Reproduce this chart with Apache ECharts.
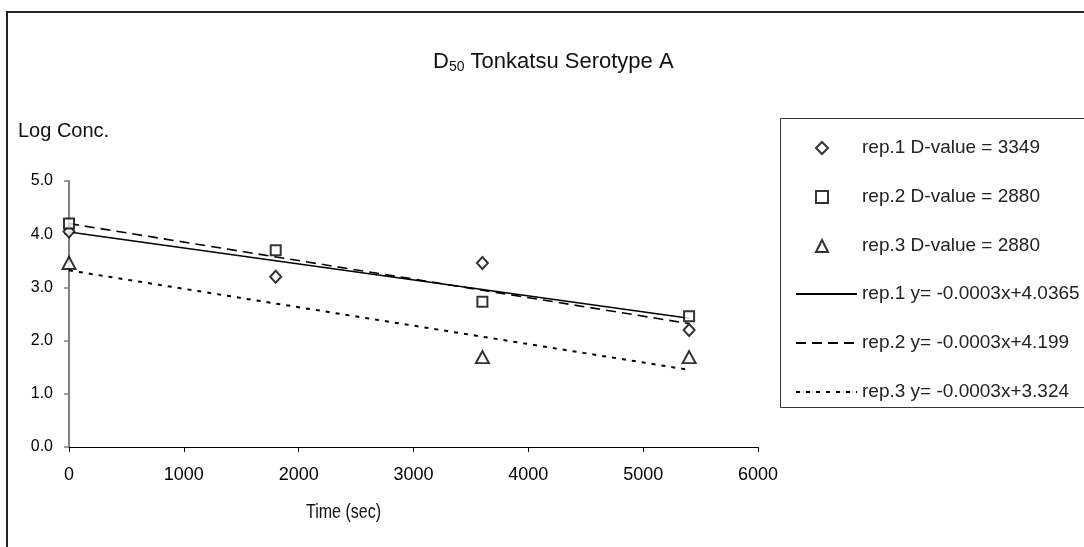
<!DOCTYPE html>
<html>
<head>
<meta charset="utf-8">
<script src="https://cdn.jsdelivr.net/npm/echarts@6/dist/echarts.min.js"></script>
<style>
  html, body { margin: 0; padding: 0; background: #fff; }
  #chart { width: 1084px; height: 547px; }
</style>
</head>
<body>
<div id="chart"></div>
<script>
// Sampling times (sec) and measured log concentrations per replicate
const timeSec = [0, 1800, 3600, 5400];
const rep1 = [4.05, 3.20, 3.46, 2.20];
const rep2 = [4.20, 3.70, 2.73, 2.46];
const rep3 = [3.46, null, 1.69, 1.69];

// Linear trendlines, end points at first and last sampling time
const trendX = [0, 5400];
const trend1 = [4.04, 2.42];
const trend2 = [4.20, 2.32];
const trend3 = [3.32, 1.45];

const pointNames = [
  'rep.1 D-value = 3349',
  'rep.2 D-value = 2880',
  'rep.3 D-value = 2880'
];
const lineNames = [
  'rep.1 y= -0.0003x+4.0365',
  'rep.2 y= -0.0003x+4.199',
  'rep.3 y= -0.0003x+3.324'
];

const xTicks = { min: 0, max: 6000, interval: 1000 };
const yTicks = { min: 0, max: 5, interval: 1 };

const font = '"Liberation Sans", Arial, sans-serif';
const narrowFont = '"Liberation Sans Narrow", "Arial Narrow", ' + font;

function pairs(xs, ys) {
  return xs.map((x, i) => [x, ys[i]]).filter(p => p[1] !== null);
}

const markerStyle = { color: '#fff', borderColor: '#000', borderWidth: 2 };
const hiddenSymbol = { color: 'transparent', borderColor: 'transparent' };
const legendText = { fontFamily: font, fontSize: 19, lineHeight: 20, color: '#222' };

const chart = echarts.init(document.getElementById('chart'), null, { renderer: 'canvas' });

chart.setOption({
  animation: false,
  backgroundColor: '#fff',
  grid: { left: 69, right: 326, top: 181, bottom: 100, containLabel: false },
  legend: [
    {
      orient: 'vertical',
      left: 810,
      top: 133,
      itemWidth: 12,
      itemHeight: 12,
      itemGap: 29,
      textStyle: Object.assign({ padding: [0, 0, 0, 29] }, legendText),
      data: pointNames
    },
    {
      orient: 'vertical',
      left: 790,
      top: 279,
      itemWidth: 61,
      itemHeight: 12,
      itemGap: 29,
      textStyle: Object.assign({ padding: [0, 0, 0, 0] }, legendText),
      data: lineNames
    }
  ],
  xAxis: {
    type: 'value',
    min: xTicks.min, max: xTicks.max, interval: xTicks.interval,
    axisLine: { onZero: false, lineStyle: { color: '#000', width: 1.2 } },
    axisTick: { show: true, length: 5, lineStyle: { color: '#000' } },
    splitLine: { show: false },
    axisLabel: { fontFamily: narrowFont, fontSize: 18, color: '#000', margin: 19,
      formatter: v => String(v) }
  },
  yAxis: {
    type: 'value',
    min: yTicks.min, max: yTicks.max, interval: yTicks.interval,
    axisLine: { show: true, onZero: false, lineStyle: { color: '#808080', width: 2 } },
    axisTick: { show: true, length: 5, lineStyle: { color: '#808080', width: 1.5 } },
    splitLine: { show: false },
    axisLabel: { fontFamily: font, fontSize: 16, color: '#000', margin: 16,
      formatter: v => v.toFixed(1) }
  },
  graphic: [
    { type: 'rect', shape: { x: 7, y: 12, width: 1100, height: 600 },
      style: { fill: null, stroke: '#222', lineWidth: 2 }, silent: true },
    { type: 'rect', shape: { x: 780.5, y: 118.5, width: 320, height: 289 },
      style: { fill: null, stroke: '#333', lineWidth: 1 }, silent: true },
    { type: 'text', left: 433, top: 51,
      style: {
        text: 'D{sub|50} Tonkatsu Serotype A',
        fontFamily: font, fontSize: 22, fill: '#111',
        rich: {
          sub: { fontFamily: font, fontSize: 14, fill: '#111', padding: [10, 0, 0, 0] }
        }
      } },
    { type: 'text', left: 18, top: 121,
      style: { text: 'Log Conc.', fontFamily: font, fontSize: 20, fill: '#111' } },
    { type: 'text', x: 306, y: 502, scaleX: 0.8,
      style: { text: 'Time (sec)', fontFamily: font, fontSize: 20, fill: '#111' } }
  ],
  series: [
    { name: pointNames[0], type: 'scatter', symbol: 'diamond', symbolSize: [11, 12],
      itemStyle: markerStyle, data: pairs(timeSec, rep1), z: 5 },
    { name: pointNames[1], type: 'scatter', symbol: 'rect', symbolSize: 10,
      itemStyle: markerStyle, data: pairs(timeSec, rep2), z: 5 },
    { name: pointNames[2], type: 'scatter', symbol: 'triangle', symbolSize: [13, 12],
      itemStyle: markerStyle, data: pairs(timeSec, rep3), z: 5 },
    { name: lineNames[0], type: 'line', symbol: 'none', data: pairs(trendX, trend1),
      itemStyle: hiddenSymbol,
      lineStyle: { color: '#000', width: 1.6, type: 'solid' } },
    { name: lineNames[1], type: 'line', symbol: 'none', data: pairs(trendX, trend2),
      itemStyle: hiddenSymbol,
      lineStyle: { color: '#000', width: 1.6, type: [10, 6] } },
    { name: lineNames[2], type: 'line', symbol: 'none', data: pairs(trendX, trend3),
      itemStyle: hiddenSymbol,
      lineStyle: { color: '#000', width: 2, type: [4, 6] } }
  ]
});
</script>
</body>
</html>
